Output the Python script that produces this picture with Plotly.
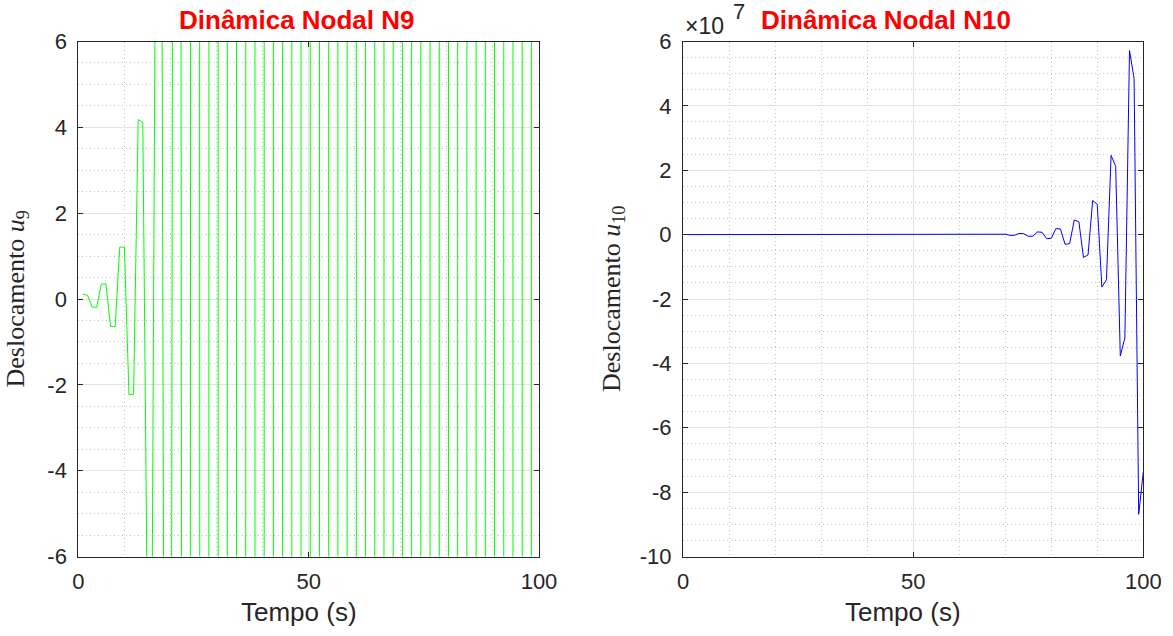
import plotly.graph_objects as go

# ---------------- data ----------------
t_s = list(range(1, 101))

# node 9 displacement (pairs of time steps, numerical blow-up)
u9 = [0.11, 0.09, -0.19, -0.19, 0.35, 0.35, -0.64, -0.64, 1.21, 1.21,
      -2.23, -2.22, 4.18, 4.12, -7.7, -7.6, 14.3, 14.1, -26.4, -26.0,
      48.9, 48.2, -90.4, -89.1, 167.0, 165.0, -309.0, -305.0, 572.0, 564.0,
      -1.06e3, -1.04e3, 1.96e3, 1.93e3, -3.62e3, -3.57e3, 6.70e3, 6.60e3, -1.24e4, -1.22e4,
      2.29e4, 2.26e4, -4.24e4, -4.18e4, 7.85e4, 7.74e4, -1.45e5, -1.43e5, 2.69e5, 2.65e5,
      -4.97e5, -4.90e5, 9.20e5, 9.07e5, -1.70e6, -1.68e6, 3.15e6, 3.10e6, -5.82e6, -5.74e6,
      1.08e7, 1.06e7, -1.99e7, -1.96e7, 3.69e7, 3.63e7, -6.82e7, -6.72e7, 1.26e8, 1.24e8,
      -2.33e8, -2.30e8, 4.32e8, 4.26e8, -7.99e8, -7.88e8, 1.48e9, 1.46e9, -2.73e9, -2.69e9,
      5.06e9, 4.99e9, -9.36e9, -9.23e9, 1.73e10, 1.71e10, -3.20e10, -3.16e10, 5.93e10, 5.84e10,
      -1.10e11, -1.08e11, 2.03e11, 2.00e11, -3.75e11, -3.70e11, 6.94e11, 6.85e11, -1.28e12, -1.27e12]

# node 10 displacement, in units of 1e7
u10_e7 = [7e-9, 6e-9, -1.1e-8, -1.0e-8, 1.7e-8, 1.6e-8, -2.6e-8, -2.4e-8, 4.0e-8, 3.7e-8,
          -6.0e-8, -5.6e-8, 9.0e-8, 8.5e-8, -1.4e-7, -1.3e-7, 2.2e-7, 2.0e-7, -3.3e-7, -3.1e-7,
          5.1e-7, 4.7e-7, -7.8e-7, -7.2e-7, 1.2e-6, 1.1e-6, -1.8e-6, -1.7e-6, 2.8e-6, 2.6e-6,
          -4.3e-6, -4.0e-6, 6.5e-6, 6.0e-6, -1.0e-5, -9.3e-6, 1.5e-5, 1.4e-5, -2.3e-5, -2.1e-5,
          3.6e-5, 3.3e-5, -5.5e-5, -5.0e-5, 8.4e-5, 7.7e-5, -1.3e-4, -1.2e-4, 2.0e-4, 1.8e-4,
          -3.0e-4, -2.8e-4, 4.6e-4, 4.2e-4, -7.0e-4, -6.5e-4, 0.0011, 0.0010, -0.0017, -0.0015,
          0.0026, 0.0023, -0.0039, -0.0036, 0.0060, 0.0055, -0.0092, -0.0085, 0.014, 0.013,
          -0.022, -0.020, 0.034, 0.031, -0.052, -0.050, 0.083, 0.072, -0.124, -0.118,
          0.186, 0.176, -0.30, -0.28, 0.455, 0.404, -0.71, -0.63, 1.06, 0.94,
          -1.63, -1.40, 2.46, 2.12, -3.77, -3.21, 5.72, 4.85, -8.69, -7.37]

x_ticks = [0, 50, 100]
y9_ticks = [-6, -4, -2, 0, 2, 4, 6]
y10_ticks = [-10, -8, -6, -4, -2, 0, 2, 4, 6]

# ---------------- figure ----------------
W, H = 1173, 636
TXT = "#262626"
SANS = "Liberation Sans, Arial, Helvetica, sans-serif"
SERIF = "Liberation Serif, Times New Roman, serif"


def px(x):
    return x / W


def py(y):
    return 1 - y / H


fig = go.Figure()
fig.add_trace(go.Scatter(x=t_s, y=u9, mode="lines", line=dict(color="#00ff00", width=1),
                         xaxis="x", yaxis="y", showlegend=False, hoverinfo="skip"))
fig.add_trace(go.Scatter(x=t_s, y=u10_e7, mode="lines", line=dict(color="#0000ff", width=1),
                         xaxis="x2", yaxis="y2", showlegend=False, hoverinfo="skip"))


def ax_style(ticks, minor_dt):
    return dict(
        showline=True, linecolor=TXT, linewidth=1, mirror="ticks",
        ticks="inside", ticklen=5, tickwidth=1, tickcolor=TXT,
        tickmode="array", tickvals=ticks, ticktext=[str(v) for v in ticks],
        tickfont=dict(family=SANS, size=22, color=TXT),
        showgrid=True, gridcolor="#e3e3e3", gridwidth=1, zeroline=False,
        minor=dict(tickmode="linear", tick0=0, dtick=minor_dt, showgrid=True,
                   gridcolor="#c4c4c4", griddash="1px,3px", gridwidth=1, ticks=""),
        fixedrange=True, automargin=False,
    )


y_dom = [py(556.5), py(41.5)]
layout = dict(
    width=W, height=H, margin=dict(l=0, r=0, t=0, b=0, pad=0, autoexpand=False),
    paper_bgcolor="white", plot_bgcolor="white", showlegend=False,
    xaxis=dict(domain=[px(78.3), px(539)], range=[0, 100], anchor="y",
               ticklabelstandoff=5, **ax_style(x_ticks, 10)),
    yaxis=dict(domain=y_dom, range=[-6, 6], anchor="x",
               ticklabelstandoff=6, **ax_style(y9_ticks, 0.5)),
    xaxis2=dict(domain=[px(683), px(1143.3)], range=[0, 100], anchor="y2",
                ticklabelstandoff=5, **ax_style(x_ticks, 10)),
    yaxis2=dict(domain=y_dom, range=[-10, 6], anchor="x2",
                ticklabelstandoff=6, **ax_style(y10_ticks, 0.5)),
)
fig.update_layout(**layout)

ann = []
# titles
ann.append(dict(text="<b>Dinâmica Nodal N9</b>", x=px(297), y=py(20.5), xref="paper", yref="paper",
                xanchor="center", yanchor="middle", showarrow=False,
                font=dict(family=SANS, size=26, color="#ff0000")))
ann.append(dict(text="<b>Dinâmica Nodal N10</b>", x=px(885.5), y=py(20.5), xref="paper", yref="paper",
                xanchor="center", yanchor="middle", showarrow=False,
                font=dict(family=SANS, size=26, color="#ff0000")))
# exponent label
ann.append(dict(text="×10", x=px(683), y=py(26.5), xref="paper", yref="paper",
                xanchor="left", yanchor="middle", showarrow=False,
                font=dict(family=SANS, size=23, color=TXT)))
ann.append(dict(text="7", x=px(731), y=py(12), xref="paper", yref="paper",
                xanchor="left", yanchor="middle", showarrow=False,
                font=dict(family=SANS, size=22, color=TXT)))
# x labels
for cx in (299, 903):
    ann.append(dict(text="Tempo (s)", x=px(cx), y=py(612), xref="paper", yref="paper",
                    xanchor="center", yanchor="middle", showarrow=False,
                    font=dict(family=SANS, size=26, color=TXT)))
# y labels
ann.append(dict(text="Deslocamento <i>u</i><sub>9</sub>", x=px(16.5), y=py(299), xref="paper", yref="paper",
                xanchor="center", yanchor="middle", textangle=-90, showarrow=False,
                font=dict(family=SERIF, size=26, color=TXT)))
ann.append(dict(text="Deslocamento <i>u</i><sub>10</sub>", x=px(613), y=py(299), xref="paper", yref="paper",
                xanchor="center", yanchor="middle", textangle=-90, showarrow=False,
                font=dict(family=SERIF, size=26, color=TXT)))
fig.update_layout(annotations=ann)

fig.write_html("out.html")
